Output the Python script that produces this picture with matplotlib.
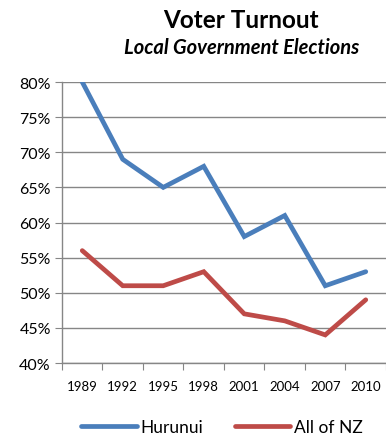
import matplotlib
matplotlib.use('Agg')
import matplotlib.pyplot as plt
from matplotlib.ticker import FixedLocator, NullFormatter, FuncFormatter
import numpy as np

# 数据
years = ['1989', '1992', '1995', '1998', '2001', '2004', '2007', '2010']
hurunui = [80, 69, 65, 68, 58, 61, 51, 53]
all_nz = [56, 51, 51, 53, 47, 46, 44, 49]

plt.rcParams['font.family'] = ['Lato', 'DejaVu Sans']

fig = plt.figure(figsize=(3.86, 4.39), dpi=100)
ax = fig.add_axes([0.1606, 0.1708, 0.8394, 0.6401])

x = np.arange(len(years))
l1, = ax.plot(x, hurunui, color='#4A7EBB', linewidth=3.4, solid_capstyle='round', solid_joinstyle='miter')
l2, = ax.plot(x, all_nz, color='#BE4B48', linewidth=3.4, solid_capstyle='round', solid_joinstyle='miter')

ax.set_xlim(-0.5, len(years) - 0.5)
ax.set_ylim(40, 80)
ax.set_yticks(np.arange(40, 81, 5))
ax.yaxis.set_major_formatter(FuncFormatter(lambda v, p: '%d%%' % v))
ax.grid(axis='y', color='#868686', linewidth=1.0)
ax.set_axisbelow(True)

# x轴刻度在类别之间
ax.xaxis.set_major_locator(FixedLocator(np.arange(-0.5, len(years), 1)))
ax.xaxis.set_major_formatter(NullFormatter())
ax.xaxis.set_minor_locator(FixedLocator(x))
ax.set_xticklabels(years, minor=True)
ax.tick_params(axis='x', which='minor', length=0, pad=12, labelsize=9.5)
ax.tick_params(axis='x', which='major', length=5, color='#868686', direction='out')
ax.tick_params(axis='y', length=5, color='#868686', direction='out', labelsize=11.5, pad=3)

for s in ['top', 'right']:
    ax.spines[s].set_visible(False)
for s in ['left', 'bottom']:
    ax.spines[s].set_color('#868686')
    ax.spines[s].set_linewidth(1.0)

fig.text(0.625, 0.953, 'Voter Turnout', ha='center', va='center', fontsize=17.5, fontweight='bold')
fig.text(0.627, 0.89, 'Local Government Elections', ha='center', va='center', fontsize=14.5,
         fontweight='bold', style='italic')

fig.legend([l1, l2], ['Hurunui', 'All of NZ'], loc='center', bbox_to_anchor=(0.575, 0.025), ncol=2,
           frameon=False, fontsize=12.5, handlelength=3.2, handletextpad=0.2, columnspacing=1.8)

fig.savefig('out.png', dpi=100)
